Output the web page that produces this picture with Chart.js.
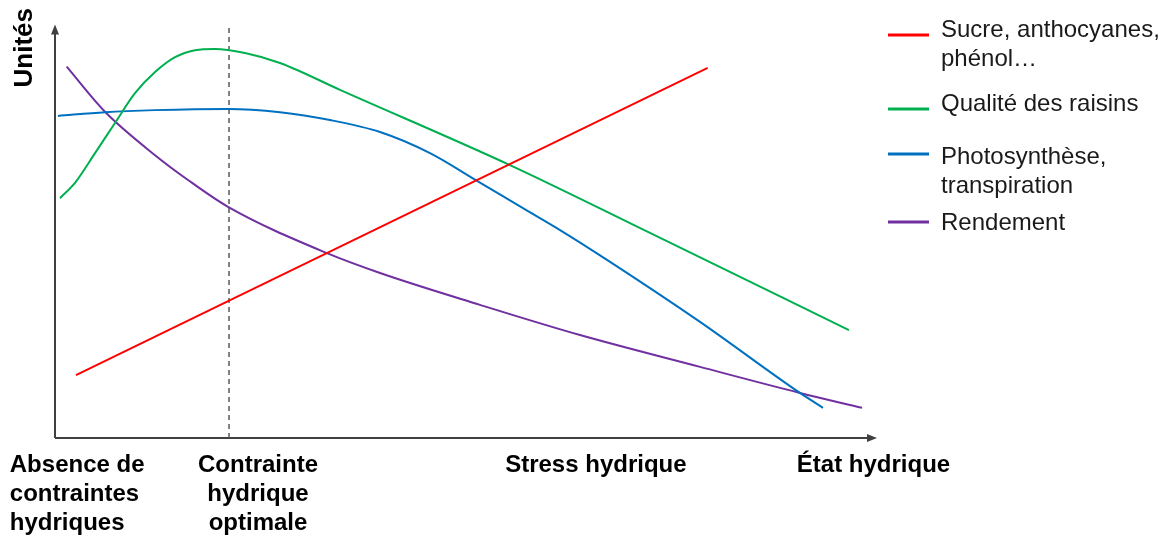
<!DOCTYPE html>
<html>
<head>
<meta charset="utf-8">
<script src="https://cdn.jsdelivr.net/npm/chart.js@4.4.1/dist/chart.umd.min.js"></script>
<style>
  html, body { margin: 0; padding: 0; background: #fff; }
  #wrap { width: 1169px; height: 540px; }
</style>
</head>
<body>
<div id="wrap"><canvas id="chart"></canvas></div>
<script>
// x: 0 = origin, 100 = arrow tip of the x axis ; y: 0 = x axis, 100 = arrow tip of the y axis
var sucreX = [2.55, 79.4];
var sucreY = [15.2, 89.5];

var qualiteX = [0.61, 2.43, 4.87, 7.30, 9.73, 12.17, 14.60, 17.03, 19.46, 23.11, 27.37, 34.67, 55.35, 72.38, 96.59];
var qualiteY = [58.0, 61.7, 68.9, 76.2, 83.4, 88.5, 92.1, 93.8, 94.1, 93.1, 90.7, 84.2, 66.0, 49.6, 26.1];

var photoX = [0.36, 6.08, 12.17, 21.05, 27.37, 33.45, 39.54, 45.62, 51.34, 56.93, 61.44, 67.15, 78.47, 90.63, 93.43];
var photoY = [77.9, 78.8, 79.3, 79.6, 78.8, 76.9, 74.0, 68.9, 62.2, 55.6, 50.3, 43.1, 28.1, 10.9, 7.3];

var rendX = [1.42, 6.08, 12.17, 16.18, 21.05, 33.09, 39.54, 51.70, 63.87, 78.47, 90.63, 98.18];
var rendY = [89.8, 78.9, 68.4, 62.4, 55.9, 44.7, 39.9, 32.2, 24.9, 17.2, 10.9, 7.3];

var optimumX = 21.17;

var seriesLabels = [['Sucre, anthocyanes,', 'phénol…'], 'Qualité des raisins', ['Photosynthèse,', 'transpiration'], 'Rendement'];
var seriesColors = ['#ff0000', '#00b050', '#0070c0', '#7030a0'];

var tickValues = [-5.5, 24.7, 65.8, 108.9];
var tickLabels = [['Absence de', 'contraintes', 'hydriques'], ['Contrainte', 'hydrique', 'optimale'], 'Stress hydrique', 'État hydrique'];

function pts(xs, ys) {
  return xs.map(function (x, i) { return {x: x, y: ys[i]}; });
}

Chart.defaults.font.family = "'Liberation Sans', Arial, sans-serif";

var series = [pts(sucreX, sucreY), pts(qualiteX, qualiteY), pts(photoX, photoY), pts(rendX, rendY)];
var datasets = series.map(function (d, i) {
  return {label: seriesLabels[i], data: d, borderColor: seriesColors[i], borderWidth: 2};
});
datasets.push({
  label: 'optimum', data: [{x: optimumX, y: 0}, {x: optimumX, y: 100}],
  borderColor: '#595959', borderWidth: 1.5, borderDash: [5, 4], cubicInterpolationMode: 'default', tension: 0
});

// arrows for the two axes
var axesPlugin = {
  id: 'arrows',
  beforeDatasetsDraw: function (chart) {
    var ctx = chart.ctx, xs = chart.scales.x, ys = chart.scales.y;
    var L = xs.getPixelForValue(0), B = ys.getPixelForValue(0);
    var tipX = xs.getPixelForValue(100), tipY = ys.getPixelForValue(100);
    ctx.save();
    ctx.strokeStyle = '#404040';
    ctx.fillStyle = '#404040';
    ctx.lineWidth = 2;
    ctx.beginPath();
    ctx.moveTo(L, B);
    ctx.lineTo(L, tipY + 8);
    ctx.moveTo(L, B);
    ctx.lineTo(tipX - 8, B);
    ctx.stroke();
    ctx.beginPath();
    ctx.moveTo(L, tipY);
    ctx.lineTo(L - 4, tipY + 10);
    ctx.lineTo(L + 4, tipY + 10);
    ctx.closePath();
    ctx.fill();
    ctx.beginPath();
    ctx.moveTo(tipX, B);
    ctx.lineTo(tipX - 10, B - 4);
    ctx.lineTo(tipX - 10, B + 4);
    ctx.closePath();
    ctx.fill();
    ctx.restore();
  }
};

// legend on the right, multi-line labels
var legendPlugin = {
  id: 'sideLegend',
  afterDraw: function (chart) {
    var ctx = chart.ctx;
    var lineY = [35, 109, 154, 222];
    var textY = [30, 104, 157, 223];
    ctx.save();
    ctx.font = "24px 'Liberation Sans', Arial, sans-serif";
    ctx.textBaseline = 'middle';
    ctx.textAlign = 'left';
    ctx.fillStyle = '#1a1a1a';
    for (var i = 0; i < seriesLabels.length; i++) {
      ctx.strokeStyle = seriesColors[i];
      ctx.lineWidth = 3;
      ctx.beginPath();
      ctx.moveTo(888, lineY[i]);
      ctx.lineTo(929, lineY[i]);
      ctx.stroke();
      var lines = [].concat(seriesLabels[i]);
      for (var j = 0; j < lines.length; j++) {
        ctx.fillText(lines[j], 941, textY[i] + j * 29);
      }
    }
    ctx.restore();
  }
};

new Chart(document.getElementById('chart'), {
  type: 'line',
  data: {datasets: datasets},
  plugins: [axesPlugin, legendPlugin],
  options: {
    animation: false,
    responsive: true,
    maintainAspectRatio: false,
    layout: {padding: {left: 9, right: 292, top: 8, bottom: 0}},
    plugins: {legend: {display: false}, tooltip: {enabled: false}},
    elements: {
      point: {radius: 0},
      line: {cubicInterpolationMode: 'monotone'}
    },
    scales: {
      x: {
        type: 'linear', min: 0, max: 100,
        grid: {display: false}, border: {display: false},
        afterBuildTicks: function (s) {
          s.ticks = tickValues.map(function (v) { return {value: v}; });
        },
        afterFit: function (s) {
          s.height = 102; s.paddingLeft = 0; s.paddingRight = 0;
        },
        ticks: {
          autoSkip: false, maxRotation: 0, minRotation: 0, align: 'inner', padding: 5,
          color: '#000', font: {size: 24, weight: 'bold', lineHeight: 1.2},
          callback: function (v, i) { return tickLabels[i]; }
        }
      },
      y: {
        min: 0, max: 104,
        grid: {display: false}, border: {display: false},
        ticks: {display: false},
        title: {display: true, text: 'Unités', align: 'end', padding: 0, color: '#000', font: {size: 26, weight: 'bold'}},
        afterFit: function (s) {
          s.width = 46; s.paddingTop = 0; s.paddingBottom = 0;
        }
      }
    }
  }
});
</script>
</body>
</html>
